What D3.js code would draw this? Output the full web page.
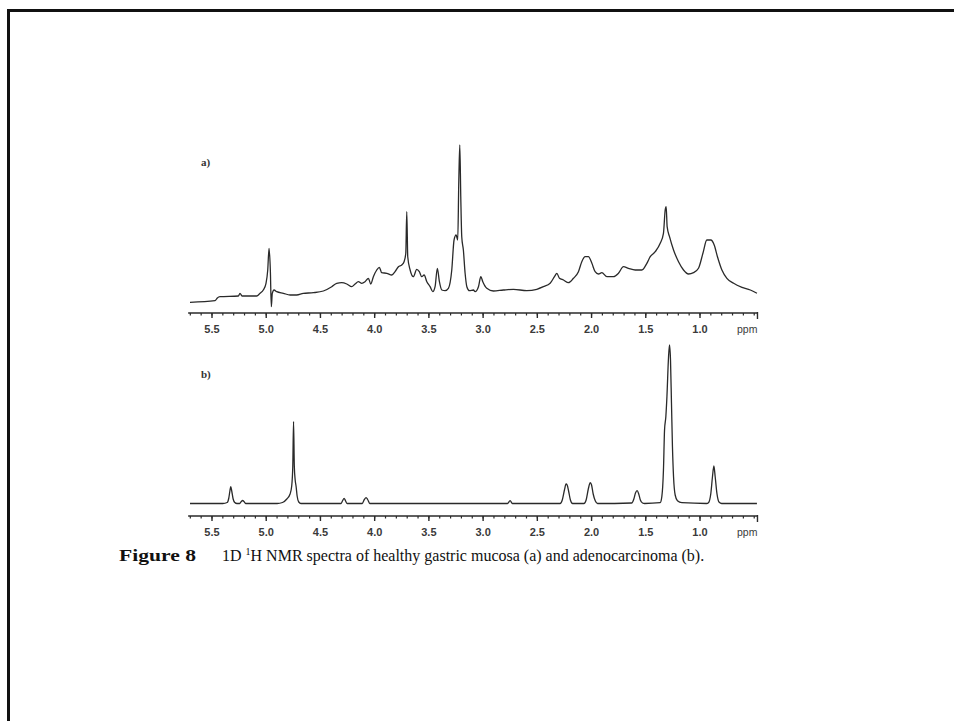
<!DOCTYPE html>
<html>
<head>
<meta charset="utf-8">
<script src="https://cdn.jsdelivr.net/npm/d3@7"></script>
<style>
  html, body { margin: 0; padding: 0; background: #fff; }
  svg { display: block; }
</style>
</head>
<body>
<svg id="chart" width="954" height="721"></svg>
<script>
// Spectrum (a): healthy gastric mucosa — chemical shift (ppm) and intensity (a.u.)
const ppmA = [5.703, 5.472, 5.451, 5.426, 5.257, 5.242, 5.223, 5.088, 5.057, 5.027, 5.002, 4.986, 4.974, 4.962, 4.953,
  4.944, 4.928, 4.903, 4.842, 4.780, 4.719, 4.658, 4.565, 4.473, 4.396, 4.350, 4.304, 4.257, 4.211, 4.181,
  4.150, 4.119, 4.089, 4.058, 4.036, 4.012, 3.981, 3.957, 3.935, 3.888, 3.842, 3.812, 3.781, 3.750, 3.729,
  3.713, 3.704, 3.695, 3.673, 3.643, 3.612, 3.588, 3.566, 3.544, 3.519, 3.489, 3.464, 3.443, 3.422, 3.403,
  3.381, 3.351, 3.320, 3.289, 3.268, 3.249, 3.234, 3.224, 3.215, 3.206, 3.197, 3.182, 3.166, 3.150, 3.126,
  3.089, 3.074, 3.043, 3.021, 3.003, 2.966, 2.905, 2.813, 2.720, 2.597, 2.505, 2.444, 2.382, 2.342, 2.320,
  2.296, 2.259, 2.213, 2.167, 2.121, 2.090, 2.059, 2.029, 1.997, 1.967, 1.936, 1.905, 1.859, 1.798, 1.752,
  1.706, 1.660, 1.598, 1.536, 1.490, 1.459, 1.413, 1.367, 1.337, 1.321, 1.312, 1.303, 1.281, 1.244, 1.198,
  1.152, 1.106, 1.060, 1.014, 0.973, 0.937, 0.900, 0.869, 0.839, 0.798, 0.752, 0.690, 0.613, 0.536, 0.475];
const intensityA = [10.7, 12.3, 15, 16.3, 17, 19.7, 17, 17, 19.7, 23, 29.7, 43, 64.7, 43, 6.3,
  19.7, 23, 21.3, 19.7, 18, 18, 19.7, 20.3, 22, 26.3, 29.7, 30.3, 29, 26.3, 29,
  31.3, 29.7, 31.3, 34.7, 29, 36.3, 43, 45.7, 40.3, 39.7, 38, 41.3, 46.3, 48, 51.3,
  59.7, 101.3, 56.3, 43, 36.3, 43.7, 41.3, 36.3, 38, 31.3, 26.3, 21.3, 26.3, 44.7, 31.3,
  23, 22.3, 24.7, 43, 73, 78, 73, 133, 168, 116.3, 76.3, 63, 39.7, 26.3, 22.3,
  23, 21.3, 26.3, 36.3, 31.3, 24.7, 22, 23, 23.7, 22.3, 23.7, 26.3, 29.7, 36.3, 39.7,
  34.7, 33, 30.3, 34.7, 41.3, 51.3, 56.3, 56.3, 49.7, 41.3, 39, 40.3, 36.3, 36.3, 39.7,
  46.3, 44.7, 43, 43, 49.7, 56.3, 61.3, 69.7, 79.7, 103, 106.3, 86.3, 76.3, 63, 51.3,
  43, 39, 40.3, 44.7, 59.7, 73, 73, 68, 56.3, 43, 34.7, 29.7, 25.7, 23, 19.7];

// Spectrum (b): adenocarcinoma
const ppmB = [5.703, 5.400, 5.360, 5.345, 5.335, 5.327, 5.318, 5.305, 5.290, 5.270, 5.245, 5.230, 5.217, 5.205, 5.190,
  4.900, 4.850, 4.810, 4.780, 4.765, 4.755, 4.748, 4.741, 4.733, 4.725, 4.715, 4.700, 4.680, 4.310, 4.295,
  4.282, 4.270, 4.255, 4.115, 4.095, 4.079, 4.065, 4.045, 2.775, 2.751, 2.730, 2.290, 2.270, 2.250, 2.235,
  2.225, 2.210, 2.195, 2.175, 2.070, 2.050, 2.030, 2.012, 2.000, 1.985, 1.965, 1.945, 1.630, 1.610, 1.595,
  1.580, 1.565, 1.550, 1.530, 1.510, 1.367, 1.352, 1.337, 1.327, 1.315, 1.305, 1.290, 1.281, 1.272, 1.263,
  1.254, 1.244, 1.229, 1.208, 1.167, 0.940, 0.922, 0.900, 0.885, 0.872, 0.860, 0.844, 0.823, 0.800, 0.475];
const intensityB = [12.5, 12.5, 13.5, 18, 25, 29.3, 25, 17, 13.5, 12.5, 12.5, 14.5, 15.5, 14.5, 12.5,
  12.5, 13.5, 17, 22, 30, 50, 94.3, 50, 36, 30, 20, 14, 12.5, 12.5, 15.5,
  17.7, 15.5, 12.5, 12.5, 16.5, 18.3, 16.5, 12.5, 12.5, 15.3, 12.5, 12.5, 16, 26, 32,
  31, 24, 16, 12.5, 12.5, 16, 27, 33.3, 31, 22, 15, 12.5, 13, 17, 23,
  25.3, 22, 16, 13, 12.5, 13.3, 19.3, 46, 86, 99.3, 119.3, 159.3, 171, 156, 112.7,
  69.3, 39.3, 21, 15.3, 13.3, 12.5, 13.3, 22.7, 39.3, 50, 39.3, 22.7, 13.7, 12.5, 12.5];

// Axis ticks (ppm)
const majorTicks = [5.5, 5.0, 4.5, 4.0, 3.5, 3.0, 2.5, 2.0, 1.5, 1.0];
const tickLabels = ["5.5", "5.0", "4.5", "4.0", "3.5", "3.0", "2.5", "2.0", "1.5", "1.0"];
const minorTicks = d3.range(57, 4, -1).map(v => v / 10);
const panelLabels = ["a)", "b)"];

const svg = d3.select("#chart");

// frame lines along the top and left edges
svg.append("line").attr("x1", 7).attr("x2", 954).attr("y1", 10.5).attr("y2", 10.5)
  .attr("stroke", "#111").attr("stroke-width", 3);
svg.append("line").attr("x1", 8.5).attr("x2", 8.5).attr("y1", 9).attr("y2", 721)
  .attr("stroke", "#111").attr("stroke-width", 3);

// shared chemical-shift scale (reversed, as usual for NMR)
const x = d3.scaleLinear().domain([5.5, 1.0]).range([212, 700]);
const xMin = 5.72, xMax = 0.47;

const panels = [
  { ppm: ppmA, intensity: intensityA, label: panelLabels[0],
    y: d3.scaleLinear().domain([0, 170]).range([313, 143]), axisY: 313, labelY: 166 },
  { ppm: ppmB, intensity: intensityB, label: panelLabels[1],
    y: d3.scaleLinear().domain([0, 171]).range([516, 345]), axisY: 516, labelY: 378 }
];

const ink = "#2a2a2a";

panels.forEach(p => {
  const g = svg.append("g");

  // spectrum trace
  const pts = p.ppm.map((v, i) => [v, p.intensity[i]]);
  g.append("path")
    .datum(pts)
    .attr("fill", "none")
    .attr("stroke", ink)
    .attr("stroke-width", 1.3)
    .attr("stroke-linejoin", "round")
    .attr("d", d3.line().curve(d3.curveMonotoneX).x(d => x(d[0])).y(d => p.y(d[1])));

  // axis baseline
  g.append("line")
    .attr("x1", x(xMin)).attr("x2", x(xMax))
    .attr("y1", p.axisY).attr("y2", p.axisY)
    .attr("stroke", ink).attr("stroke-width", 1.6);

  // minor ticks
  g.selectAll(".minor").data(minorTicks).join("line")
    .attr("x1", d => x(d)).attr("x2", d => x(d))
    .attr("y1", p.axisY).attr("y2", p.axisY + 2.5)
    .attr("stroke", ink).attr("stroke-width", 1.2);

  // major ticks
  g.selectAll(".major").data(majorTicks).join("line")
    .attr("x1", d => x(d)).attr("x2", d => x(d))
    .attr("y1", p.axisY).attr("y2", p.axisY + 5)
    .attr("stroke", ink).attr("stroke-width", 1.4);

  // end tick at the right edge
  g.append("line")
    .attr("x1", x(xMax)).attr("x2", x(xMax))
    .attr("y1", p.axisY - 1).attr("y2", p.axisY + 6)
    .attr("stroke", ink).attr("stroke-width", 1.4);

  // tick labels
  g.selectAll(".tl").data(majorTicks).join("text")
    .attr("x", d => x(d))
    .attr("y", p.axisY + 20)
    .attr("text-anchor", "middle")
    .attr("font-family", "Liberation Sans, Arial, sans-serif")
    .attr("font-size", 11)
    .attr("font-weight", "bold")
    .attr("fill", "#3a3a3a")
    .text((d, i) => tickLabels[i]);

  g.append("text")
    .attr("x", x(0.565))
    .attr("y", p.axisY + 20)
    .attr("text-anchor", "middle")
    .attr("font-family", "Liberation Sans, Arial, sans-serif")
    .attr("font-size", 10.5)
    .attr("fill", "#3a3a3a")
    .text("ppm");

  // panel letter
  g.append("text")
    .attr("x", 201)
    .attr("y", p.labelY)
    .attr("font-family", "Liberation Serif, Times New Roman, serif")
    .attr("font-size", 11)
    .attr("font-weight", "bold")
    .attr("fill", "#333")
    .text(p.label);
});

// caption
const capFont = "Liberation Serif, Times New Roman, serif";
svg.append("text")
  .attr("x", 119)
  .attr("y", 561)
  .attr("font-family", capFont)
  .attr("font-size", 16.5)
  .attr("font-weight", "bold")
  .attr("fill", "#111")
  .attr("textLength", 77)
  .attr("lengthAdjust", "spacingAndGlyphs")
  .text("Figure 8");

const cap = svg.append("text")
  .attr("x", 222)
  .attr("y", 561)
  .attr("font-family", capFont)
  .attr("font-size", 16)
  .attr("fill", "#111");
cap.append("tspan").text("1D ");
cap.append("tspan").attr("font-size", 10).attr("dy", -6).text("1");
cap.append("tspan").attr("dy", 6).text("H NMR spectra of healthy gastric mucosa (a) and adenocarcinoma (b).");
</script>
</body>
</html>
